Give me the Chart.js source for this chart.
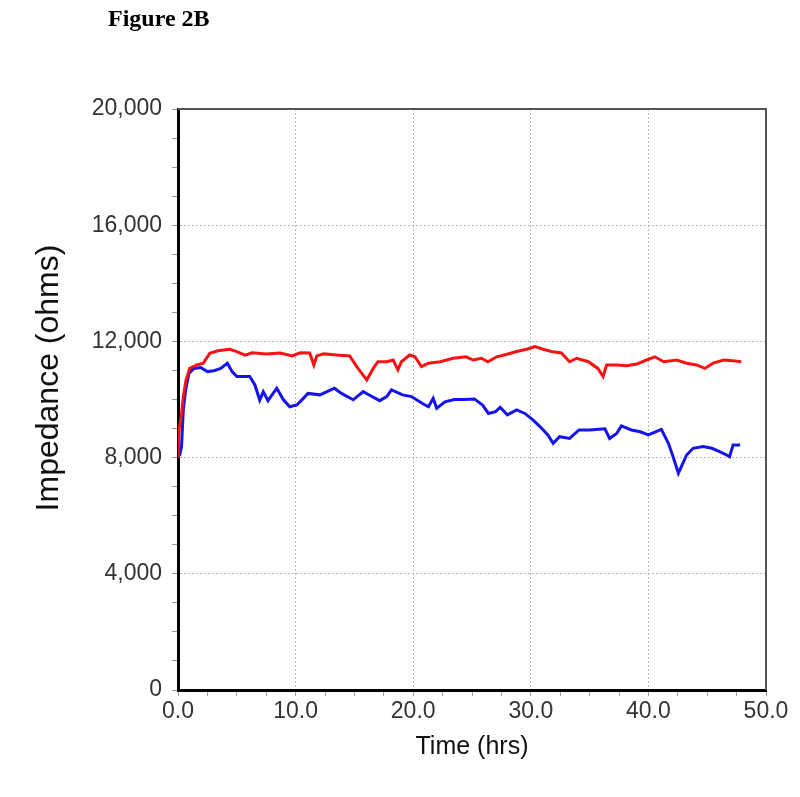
<!DOCTYPE html>
<html>
<head>
<meta charset="utf-8">
<title>Figure 2B</title>
<script src="https://cdn.jsdelivr.net/npm/chart.js@4.4.1/dist/chart.umd.min.js"></script>
<style>
    body { margin: 0; background: #ffffff; }
    #wrap { width: 800px; height: 797px; position: relative; }
</style>
</head>
<body>
<div id="wrap"><canvas id="impedance-chart"></canvas></div>
<script>
// Waktu (jam) dan impedansi (ohm)
const redHours = [0, 0.1, 0.3, 0.45, 0.68, 1.0, 1.6, 2.15, 2.7, 3.4, 4.4, 5.0, 5.7, 6.3, 7.5, 8.7, 9.7, 10.4, 11.2, 11.55, 11.8, 12.4, 13.5, 14.6, 15.2, 16.05, 16.6, 17.0, 17.75, 18.3, 18.7, 19.0, 19.7, 20.15, 20.7, 21.3, 22.3, 23.4, 24.5, 25.1, 25.8, 26.35, 27.1, 27.9, 28.8, 29.65, 30.35, 31.05, 31.75, 32.6, 33.3, 33.9, 34.9, 35.7, 36.15, 36.45, 37.3, 38.15, 39.0, 39.85, 40.55, 41.3, 42.4, 43.25, 44.1, 44.8, 45.5, 46.4, 47.2, 47.9];
const redOhms = [8000, 9000, 9500, 10100, 10670, 11070, 11190, 11250, 11590, 11680, 11730, 11650, 11530, 11610, 11570, 11600, 11500, 11610, 11600, 11190, 11500, 11570, 11530, 11500, 11130, 10670, 11070, 11300, 11300, 11360, 11020, 11300, 11530, 11470, 11130, 11250, 11300, 11420, 11470, 11360, 11420, 11300, 11470, 11550, 11650, 11730, 11820, 11730, 11650, 11600, 11300, 11420, 11300, 11070, 10790, 11190, 11190, 11160, 11220, 11360, 11470, 11300, 11360, 11250, 11190, 11070, 11250, 11360, 11330, 11300];

const blueHours = [0, 0.15, 0.3, 0.45, 0.65, 0.93, 1.36, 1.93, 2.5, 3.06, 3.63, 4.2, 4.6, 5.0, 5.56, 6.1, 6.54, 6.95, 7.25, 7.65, 8.4, 8.95, 9.5, 10.1, 10.66, 11.05, 12.07, 13.3, 13.9, 14.9, 15.75, 16.1, 17.15, 17.75, 18.15, 19.1, 19.85, 20.75, 21.3, 21.7, 22.0, 22.7, 23.5, 24.3, 25.2, 25.9, 26.4, 27.0, 27.4, 28.0, 28.8, 29.5, 30.2, 30.8, 31.45, 31.9, 32.45, 33.3, 34.1, 35.0, 36.3, 36.7, 37.3, 37.7, 38.55, 39.3, 40.0, 41.1, 41.7, 42.1, 42.55, 42.8, 43.25, 43.8, 44.65, 45.4, 46.1, 46.65, 46.9, 47.2, 47.8];
const blueOhms = [8030, 8100, 8370, 9640, 10330, 10900, 11070, 11100, 10960, 10990, 11070, 11250, 10960, 10790, 10790, 10790, 10500, 9980, 10270, 9960, 10390, 10000, 9750, 9810, 10040, 10210, 10160, 10390, 10210, 9990, 10270, 10190, 9960, 10100, 10330, 10160, 10100, 9870, 9750, 10040, 9700, 9920, 10000, 10000, 10020, 9810, 9520, 9580, 9730, 9470, 9640, 9520, 9290, 9060, 8780, 8490, 8720, 8660, 8950, 8950, 8990, 8660, 8830, 9090, 8950, 8890, 8780, 8970, 8490, 8030, 7460, 7690, 8090, 8320, 8380, 8320, 8200, 8090, 8030, 8430, 8430];

// Label sumbu
const xTickLabels = ["0.0", "10.0", "20.0", "30.0", "40.0", "50.0"];
const yTickLabels = ["0", "4,000", "8,000", "12,000", "16,000", "20,000"];

function toPoints(xs, ys) {
    return xs.map((x, i) => ({ x: x, y: ys[i] }));
}

// Bingkai atas/kanan, judul gambar dan judul sumbu Y
const framePlugin = {
    id: "frame",
    afterDraw(chart) {
        const { ctx, chartArea } = chart;
        ctx.save();
        ctx.strokeStyle = "#555555";
        ctx.lineWidth = 2;
        ctx.beginPath();
        ctx.moveTo(chartArea.left, chartArea.top);
        ctx.lineTo(chartArea.right, chartArea.top);
        ctx.lineTo(chartArea.right, chartArea.bottom);
        ctx.stroke();

        ctx.fillStyle = "#000000";
        ctx.font = "bold 24px 'Liberation Serif'";
        ctx.textBaseline = "middle";
        ctx.fillText("Figure 2B", 108, 20);

        ctx.translate(49, 378);
        ctx.rotate(-Math.PI / 2);
        ctx.fillStyle = "#111111";
        ctx.font = "32px 'Liberation Sans', Arial";
        ctx.textAlign = "center";
        ctx.fillText("Impedance (ohms)", 0, 0);
        ctx.restore();
    },
};

function initializeChart() {
    const canvas = document.getElementById("impedance-chart");
    if (!canvas) {
        console.error("Canvas element not found!");
        return;
    }

    const tickFont = { family: "'Liberation Sans', Arial", size: 23 };

    const config = {
        type: "line",
        data: {
            datasets: [
                {
                    label: "Red",
                    data: toPoints(redHours, redOhms),
                    borderColor: "rgb(245,20,20)",
                    borderWidth: 3,
                    pointRadius: 0,
                    tension: 0,
                    fill: false,
                },
                {
                    label: "Blue",
                    data: toPoints(blueHours, blueOhms),
                    borderColor: "rgb(20,20,235)",
                    borderWidth: 3,
                    pointRadius: 0,
                    tension: 0,
                    fill: false,
                },
            ],
        },
        options: {
            responsive: true,
            maintainAspectRatio: false,
            animation: false,
            layout: { padding: { top: 109, right: 34, left: 0, bottom: 0 } },
            plugins: {
                legend: { display: false },
                tooltip: { enabled: false },
            },
            scales: {
                x: {
                    type: "linear",
                    min: 0,
                    max: 50,
                    afterFit: (s) => { s.height = 107; },
                    ticks: {
                        stepSize: 2.5,
                        autoSkip: false,
                        maxRotation: 0,
                        padding: 2,
                        color: "#333333",
                        font: tickFont,
                        callback: (v) => (v % 10 === 0 ? xTickLabels[v / 10] : ""),
                    },
                    grid: {
                        color: (c) => {
                            const v = c.tick ? c.tick.value : 0;
                            return v % 10 === 0 && v > 0 && v < 50 ? "#b8b8b8" : "transparent";
                        },
                        tickLength: 6,
                        tickColor: "#999999",
                        lineWidth: 1,
                    },
                    border: { color: "#000000", width: 3, dash: [2, 2] },
                    title: {
                        display: true,
                        text: "Time (hrs)",
                        color: "#111111",
                        font: { family: "'Liberation Sans', Arial", size: 25 },
                        padding: { top: 0, bottom: 35 },
                    },
                },
                y: {
                    min: 0,
                    max: 20000,
                    afterFit: (s) => { s.width = 178; },
                    ticks: {
                        stepSize: 1000,
                        autoSkip: false,
                        padding: 10,
                        color: "#333333",
                        font: tickFont,
                        callback: (v) => (v % 4000 === 0 ? yTickLabels[v / 4000] : ""),
                    },
                    grid: {
                        color: (c) => {
                            const v = c.tick ? c.tick.value : 0;
                            return v % 4000 === 0 && v > 0 && v < 20000 ? "#b8b8b8" : "transparent";
                        },
                        tickLength: 6,
                        tickColor: "#999999",
                        lineWidth: 1,
                    },
                    border: { color: "#000000", width: 3, dash: [2, 2] },
                    title: { display: false },
                },
            },
        },
        plugins: [framePlugin],
    };

    canvas.chart = new Chart(canvas, config);
}

document.addEventListener("DOMContentLoaded", initializeChart);
</script>
</body>
</html>
